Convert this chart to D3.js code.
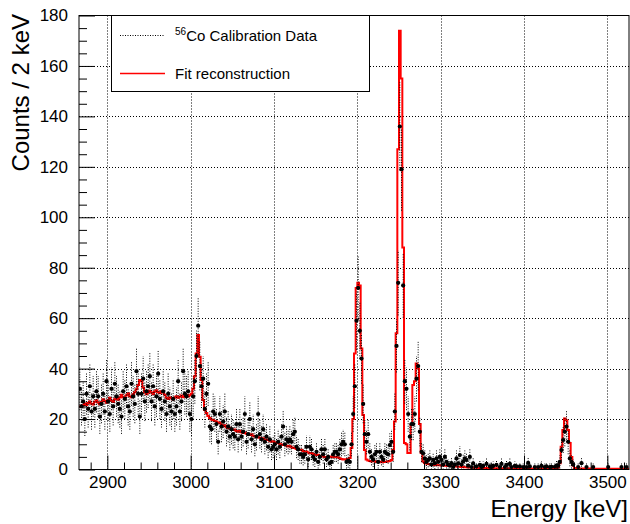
<!DOCTYPE html>
<html><head><meta charset="utf-8">
<script src="https://cdn.jsdelivr.net/npm/d3@7/dist/d3.min.js"></script>
<style>
body{margin:0;background:#fff}
svg{display:block}
text{font-family:"Liberation Sans",Arial,Helvetica,sans-serif;fill:#000}
</style>
</head><body>
<svg id="c" width="630" height="524"></svg>
<script>
// ---- data ----
const binStart = 2866, binWidth = 2;   // keV
const counts = [
 32,25,27,20,30,24,33,23,29,24,
 31,29,21,26,30,23,35,27,22,32,
 25,34,29,26,24,21,31,28,33,25,
 23,34,29,26,39,30,21,30,36,27,
 31,33,37,27,33,25,29,38,28,24,
 31,27,22,30,25,23,28,22,25,35,
 23,27,39,30,29,31,22,20,29,35,
 45,57,41,33,36,24,30,34,17,16,
 23,22,18,11,22,17,19,23,15,17,
 13,16,14,13,18,12,18,13,15,22,
 11,14,20,12,16,10,13,22,14,12,
 16,11,13,9,12,8,9,10,8,11,
 9,13,17,10,12,11,12,11,14,15,
 9,8,6,6,5,6,9,4,9,8,
 5,4,7,3,5,8,6,8,4,5,
 2.5,3,6,7,7,6,8,10,11,10,
 3,3.5,3,10,22,33,59,72,55,44,
 26,14,11,14,7,5,4,6,7,3,
 7,5,4,7,6.4,6,9.7,11,7,23,
 49,74,136,119,73,35,32,22,13,18,
 18,22,36,41,15,7,6.4,4.4,3,3.8,
 4.4,2,3.8,2.5,4.4,3,5,3.8,2,5,
 3,2,1.5,2.5,1,2,4.4,2.4,5.7,2,
 3.2,4.4,3.8,1.5,5,1,2.4,0,1.2,0,
 1.8,1,1.4,0,2.2,0,1.2,1,1.4,0,
 1.8,0,1,2.2,0,1,1.8,0,2.2,1,
 0,1.4,1.2,0,1.2,0,1,0,1,2.6,
 1.2,0,0,1,0,1,0,1.4,0,1,
 1.2,0,1,1.1,0,1.1,1.5,1.5,3,7.7,
 11.7,15,17,11,4.4,3,2,0,0,1,
 0,2.5,0,0,1,0,0,0,1,0,
 0,0,0,0,0,0,0,1,0,0,
 0,0,0,0,0,1,0,0,1,0
];
const fitValues = [
 25.0,24.8,25.5,26.2,25.6,26.4,27.0,26.1,25.8,26.9,
 27.5,26.6,25.9,26.8,27.9,27.2,26.5,27.6,28.4,27.3,
 26.8,27.9,28.8,27.7,28.5,29.6,28.6,28.2,29.4,30.2,
 29.0,28.6,29.8,30.6,31.8,33.5,35.5,35.0,32.5,30.6,
 29.8,30.4,31.2,30.5,29.8,30.9,31.4,30.6,30.2,31.0,
 30.5,29.6,28.4,28.0,28.6,28.2,27.8,28.5,29.0,28.4,
 28.8,29.3,28.6,29.0,29.6,28.9,29.4,30.0,32.0,37.0,
 46.0,53.3,44.7,35.5,27.6,23.6,22.4,21.2,20.4,19.8,
 19.6,19.2,19.0,18.4,18.6,17.8,17.2,17.5,16.8,16.4,
 16.6,16.0,15.7,15.9,15.3,15.0,15.4,14.8,14.5,14.7,
 14.2,13.9,13.7,14.0,13.4,13.1,13.3,12.8,12.6,12.2,
 12.4,11.9,11.7,11.9,11.4,11.0,11.2,10.8,10.5,10.7,
 10.2,9.9,9.7,9.9,9.4,9.1,9.3,8.8,8.5,8.6,
 8.1,7.9,7.7,7.8,7.3,7.0,7.1,6.7,6.4,6.5,
 6.1,5.9,5.7,5.8,5.4,5.2,5.3,5.0,4.9,5.1,
 5.0,5.2,4.9,5.1,5.0,4.8,4.5,4.2,4.0,4.1,
 4.0,4.2,4.6,8.5,20.0,46.0,72.0,74.0,73.0,48.0,
 21.6,7.7,4.0,3.6,3.4,3.2,3.5,3.3,3.0,3.2,
 3.1,2.9,3.2,3.0,3.1,3.3,3.4,3.8,7.7,19.0,
 54.0,127.0,174.0,155.0,88.0,10.5,10.0,6.5,6.5,18.0,
 33.5,35.0,42.0,40.0,18.0,6.5,3.2,2.6,2.4,2.2,
 2.1,2.0,1.9,1.8,1.8,1.7,1.7,1.6,1.6,1.5,
 1.5,1.4,1.4,1.3,1.3,1.2,1.2,1.1,1.1,1.0,
 1.0,0.9,0.9,0.8,0.8,0.8,0.7,0.7,0.7,0.6,
 0.6,0.6,0.6,0.6,0.6,0.5,0.5,0.5,0.5,0.5,
 0.5,0.5,0.5,0.5,0.5,0.5,0.5,0.5,0.4,0.4,
 0.4,0.4,0.4,0.4,0.4,0.4,0.4,0.4,0.4,0.4,
 0.4,0.4,0.4,0.4,0.4,0.4,0.4,0.4,0.4,0.4,
 0.4,0.4,0.4,0.4,0.5,0.5,0.6,0.8,2.5,9.0,
 15.7,20.2,19.5,15.7,10.5,5.0,1.6,0.6,0.4,0.4,
 0.4,0.4,0.4,0.4,0.4,0.4,0.4,0.4,0.4,0.3,
 0.3,0.3,0.3,0.3,0.3,0.3,0.3,0.3,0.3,0.3,
 0.3,0.3,0.3,0.3,0.3,0.3,0.3,0.3,0.3,0.3
];
const xTicks = [2900,3000,3100,3200,3300,3400,3500];
const yTicks = [0,20,40,60,80,100,120,140,160,180];
const xTitle = "Energy [keV]";
const yTitle = "Counts / 2 keV";
const legendIsotope = "56";
const legendLabels = ["Co Calibration Data", "Fit reconstruction"];
const errScale = 1.5;

// ---- layout ----
const L = 79, R = 629, T = 15.5, B = 469.5;
const svg = d3.select("#c");
const xEnd = binStart + binWidth * counts.length;
const x = d3.scaleLinear().domain([binStart, xEnd]).range([L, R]);
const y = d3.scaleLinear().domain([0, 180]).range([B, T]);

svg.append("defs").append("clipPath").attr("id","pc")
  .append("rect").attr("x",L).attr("y",T).attr("width",R-L).attr("height",B-T);

// grid
const grid = svg.append("g").attr("stroke","#000").attr("stroke-width",1)
  .attr("stroke-dasharray","1,2");
grid.selectAll(".gx").data(xTicks).join("line")
  .attr("x1",d=>Math.round(x(d))+0.5).attr("x2",d=>Math.round(x(d))+0.5)
  .attr("y1",T).attr("y2",B);
grid.selectAll(".gy").data(yTicks.filter(d=>d>0&&d<180)).join("line")
  .attr("x1",L).attr("x2",R)
  .attr("y1",d=>Math.round(y(d))+0.5).attr("y2",d=>Math.round(y(d))+0.5);

const plot = svg.append("g").attr("clip-path","url(#pc)");

// fit step line
const fitPts = fitValues.map((v,i)=>[binStart+i*binWidth, v]);
fitPts.push([xEnd, fitValues[fitValues.length-1]]);
plot.append("path")
  .attr("d", d3.line().x(d=>x(d[0])).y(d=>y(d[1])).curve(d3.curveStepAfter)(fitPts))
  .attr("fill","none").attr("stroke","#ff0000").attr("stroke-width",2);

// data points
const pts = counts.map((v,i)=>({c: binStart+(i+0.5)*binWidth, v, e: errScale*Math.sqrt(v)}))
  .filter(d=>d.v>0);
plot.append("g").attr("stroke","#000").attr("stroke-width",1).attr("stroke-dasharray","1,1.5")
  .selectAll("line").data(pts).join("line")
  .attr("x1",d=>x(d.c)).attr("x2",d=>x(d.c))
  .attr("y1",d=>y(Math.max(0,d.v-d.e))).attr("y2",d=>y(d.v+d.e));
plot.append("g").selectAll("circle").data(pts).join("circle")
  .attr("cx",d=>x(d.c)).attr("cy",d=>y(d.v)).attr("r",2.1).attr("fill","#000");

// axes
function styleAxis(g){
  g.select(".domain").remove();
  g.selectAll("text").style("font-size","17px").style("font-family",'"Liberation Sans",Arial,sans-serif');
  g.selectAll("line").attr("stroke","#000");
}
const xMinor = d3.range(2880, xEnd, 20).filter(d=>!xTicks.includes(d));
const yMinor = d3.range(0, 181, 5).filter(d=>!yTicks.includes(d));

svg.append("g").attr("transform",`translate(0,${B})`)
  .call(d3.axisBottom(x).tickValues(xMinor).tickSizeInner(-7).tickSizeOuter(0).tickFormat(""))
  .call(styleAxis);
svg.append("g").attr("transform",`translate(0,${B})`)
  .call(d3.axisBottom(x).tickValues(xTicks).tickSizeInner(-14).tickSizeOuter(0).tickPadding(6).tickFormat(d3.format("d")))
  .call(styleAxis);
svg.append("g").attr("transform",`translate(${L},0)`)
  .call(d3.axisLeft(y).tickValues(yMinor).tickSizeInner(-8).tickSizeOuter(0).tickFormat(""))
  .call(styleAxis);
svg.append("g").attr("transform",`translate(${L},0)`)
  .call(d3.axisLeft(y).tickValues(yTicks).tickSizeInner(-16).tickSizeOuter(0).tickPadding(11).tickFormat(d3.format("d")))
  .call(styleAxis);

// legend
const lg = svg.append("g");
lg.append("rect").attr("x",111.5).attr("y",T).attr("width",258).attr("height",76)
  .attr("fill","#fff").attr("stroke","#000").attr("stroke-width",1);
lg.append("line").attr("x1",120).attr("x2",164).attr("y1",35.5).attr("y2",35.5)
  .attr("stroke","#000").attr("stroke-dasharray","1,1.5");
lg.append("line").attr("x1",120).attr("x2",165).attr("y1",73.5).attr("y2",73.5)
  .attr("stroke","#ff0000").attr("stroke-width",1.5);
const t1 = lg.append("text").attr("x",175).attr("y",40.5).style("font-size","15px");
t1.append("tspan").text(legendIsotope).style("font-size","10px").attr("dy","-6");
t1.append("tspan").text(legendLabels[0]).attr("dy","6");
lg.append("text").attr("x",175).attr("y",78.5).style("font-size","15px").text(legendLabels[1]);

// frame
svg.append("rect").attr("x",L).attr("y",T).attr("width",R-L).attr("height",B-T)
  .attr("fill","none").attr("stroke","#000").attr("stroke-width",1);

// titles
svg.append("text").attr("x",628).attr("y",517).attr("text-anchor","end")
  .style("font-size","24px").text(xTitle);
svg.append("text").attr("transform","translate(28.5,14) rotate(-90)").attr("text-anchor","end")
  .style("font-size","24px").text(yTitle);
</script>
</body></html>
